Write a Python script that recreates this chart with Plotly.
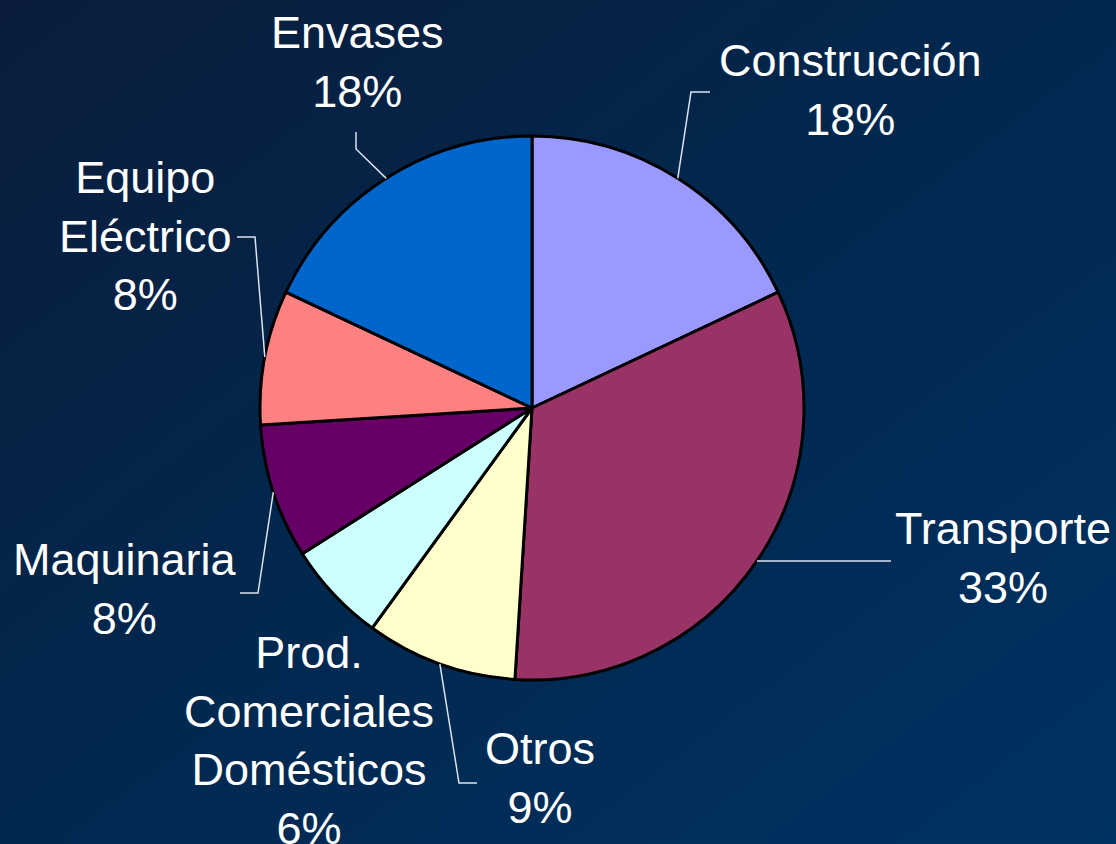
import math
import base64
import plotly.graph_objects as go

W, H = 1116, 844

# data
labels = ["Construcción", "Transporte", "Otros", "Prod. Comerciales Domésticos",
          "Maquinaria", "Equipo Eléctrico", "Envases"]
names_br = ["Construcción", "Transporte", "Otros", "Prod.<br>Comerciales<br>Domésticos",
            "Maquinaria", "Equipo<br>Eléctrico", "Envases"]
values = [18, 33, 9, 6, 8, 8, 18]
colors = ["#9999FF", "#993366", "#FFFFCC", "#CCFFFF", "#660066", "#FF8080", "#0066CC"]

# layout of pie (pixels)
cx, cy, r = 532, 408, 272

# label block centres (pixels) and leader elbows (pixels, after the anchor on the rim)
label_pos = [(850, 90), (1003, 558), (540, 778), (309, 740), (125, 589), (145, 236), (357, 62)]
elbows = [[(691, 92), (710, 92)],
          [(891, 561)],
          [(459, 783), (477, 783)],
          [],
          [(258, 593), (240, 593)],
          [(255, 237), (237, 237)],
          [(356, 149), (356, 132)]]


def px(x, y):
    return x / W, 1 - y / H


total = sum(values)
fig = go.Figure()
fig.add_trace(go.Pie(
    labels=labels, values=values, sort=False, direction="clockwise", rotation=0,
    marker=dict(colors=colors, line=dict(color="black", width=3)),
    textinfo="none", hoverinfo="label+percent", showlegend=False,
    domain=dict(x=[(cx - r) / W, (cx + r) / W], y=[1 - (cy + r) / H, 1 - (cy - r) / H]),
))

annotations = []
shapes = []
start = 0.0
for i, v in enumerate(values):
    mid = (start + v / 2) / total * 2 * math.pi
    start += v
    ax, ay = cx + r * math.sin(mid), cy - r * math.cos(mid)
    pct = round(v / total * 100)
    lx, ly = px(*label_pos[i])
    annotations.append(dict(
        x=lx, y=ly, xref="paper", yref="paper", xanchor="center", yanchor="middle",
        text=f"{names_br[i]}<br>{pct}%", showarrow=False, align="center",
        font=dict(family="Liberation Sans, Arial, sans-serif", size=45, color="white"),
    ))
    if elbows[i]:
        pts = [px(ax, ay)] + [px(*p) for p in elbows[i]]
        path = "M " + " L ".join(f"{x:.5f},{y:.5f}" for x, y in pts)
        shapes.append(dict(type="path", path=path, xref="paper", yref="paper",
                           line=dict(color="#dde3ee", width=1.5)))

# diagonal blue gradient background
svg = ('<svg xmlns="http://www.w3.org/2000/svg" width="1116" height="844">'
       '<defs><linearGradient id="g" x1="0" y1="0" x2="1" y2="1">'
       '<stop offset="0" stop-color="#0b1c3b"/><stop offset="0.5" stop-color="#01284f"/>'
       '<stop offset="1" stop-color="#003263"/></linearGradient></defs>'
       '<rect width="1116" height="844" fill="url(#g)"/></svg>')
bg = "data:image/svg+xml;base64," + base64.b64encode(svg.encode()).decode()

fig.update_layout(
    width=W, height=H,
    margin=dict(l=0, r=0, t=0, b=0),
    paper_bgcolor="#01284f",
    annotations=annotations,
    shapes=shapes,
    images=[dict(source=bg, xref="paper", yref="paper", x=0, y=1, sizex=1, sizey=1,
                 xanchor="left", yanchor="top", sizing="stretch", layer="below")],
)

fig.write_html("out.html", config={"displayModeBar": False},
               post_script="document.body.style.margin='0';document.body.style.overflow='hidden';")
